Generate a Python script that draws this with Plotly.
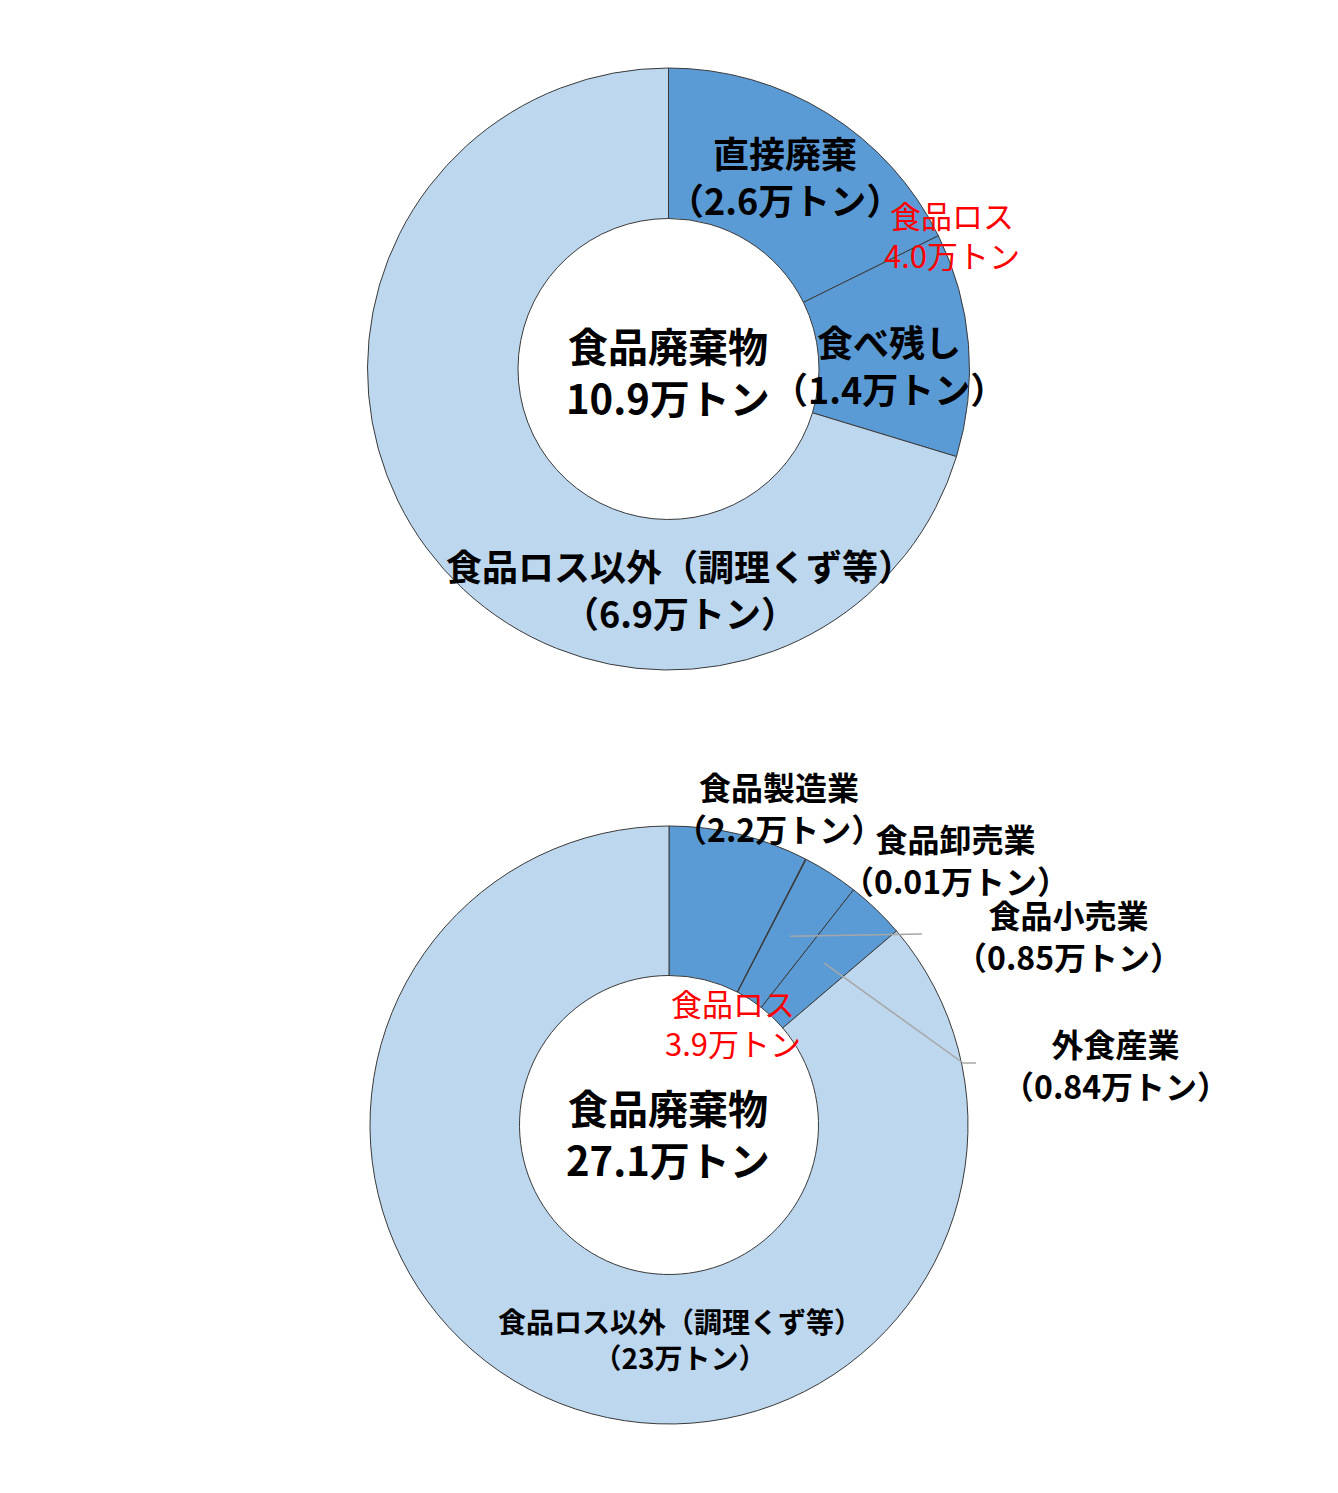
import math
import plotly.graph_objects as go

# page is 1338x1493; the browser body has an 8px margin
OFF = 8
W, H = 1338 - 2 * OFF, 1493 - 2 * OFF

# ---------------- data ----------------
top_names = ["直接廃棄", "食べ残し", "食品ロス以外（調理くず等）"]
top_amounts = ["2.6", "1.4", "6.9"]
top_shares = [17.7, 12.0, 70.3]          # slice sizes as drawn (%)
top_total = "10.9"
top_loss = "4.0"

bot_names = ["食品製造業", "食品卸売業", "食品小売業", "外食産業", "食品ロス以外（調理くず等）"]
bot_amounts = ["2.2", "0.01", "0.85", "0.84", "23"]
bot_shares = [7.55, 0.04, 3.0, 3.17, 86.24]  # slice sizes as drawn (%)
bot_total = "27.1"
bot_loss = "3.9"

DARK = "#5B9BD5"
LIGHT = "#BDD7EE"
FONT = "Noto Sans CJK JP"

# ---------------- layout geometry (page pixels) ----------------
TOP_C, TOP_R = (668.5, 369.0), 301.0
BOT_C, BOT_R = (669.0, 1125.0), 299.0


def px(x, y):
    return (x - OFF) / W, 1 - (y - OFF) / H


def domain(c, r):
    x0, y1 = px(c[0] - r, c[1] - r)
    x1, y0 = px(c[0] + r, c[1] + r)
    return dict(x=[x0, x1], y=[y0, y1])


fig = go.Figure()
for names, shares, c, r in [(top_names, top_shares, TOP_C, TOP_R),
                            (bot_names, bot_shares, BOT_C, BOT_R)]:
    colors = [DARK] * (len(names) - 1) + [LIGHT]
    fig.add_trace(go.Pie(
        labels=names, values=shares, sort=False, direction="clockwise",
        rotation=0, hole=0.5, textinfo="none", hoverinfo="label",
        marker=dict(colors=colors, line=dict(color="#3a3a3a", width=1)),
        domain=domain(c, r), showlegend=False,
    ))

annotations = []


def label(lines, x, y, size, color="black", bold=True):
    xx, yy = px(x, y)
    if bold:
        lines = [f"<b>{t}</b>" for t in lines]
    annotations.append(dict(text="<br>".join(lines), x=xx, y=yy,
                            xref="paper", yref="paper",
                            showarrow=False, xanchor="center", yanchor="middle",
                            align="center",
                            font=dict(family=FONT, size=size, color=color)))


def amt(a):
    return f"（{a}万トン）"


RED = "#FF0000"

# top donut
label([top_names[0], amt(top_amounts[0])], 785, 175, 36)
label([top_names[1], amt(top_amounts[1])], 889, 364, 36)
label([top_names[2], amt(top_amounts[2])], 680, 589, 36)
label(["食品ロス", f"{top_loss}万トン"], 952, 234, 31, RED, bold=False)
label(["食品廃棄物", f"{top_total}万トン"], 668, 371, 40)

# bottom donut
label([bot_names[0], amt(bot_amounts[0])], 779, 807, 32)
label([bot_names[1], amt(bot_amounts[1])], 955, 859, 32)
label([bot_names[2], amt(bot_amounts[2])], 1068, 935, 32)
label([bot_names[3], amt(bot_amounts[3])], 1115, 1064, 32)
label([bot_names[4], amt(bot_amounts[4])], 680, 1339, 28)
label(["食品ロス", f"{bot_loss}万トン"], 733, 1022, 31, RED, bold=False)
label(["食品廃棄物", f"{bot_total}万トン"], 668, 1133, 40)


# leader lines from slice mid-angles (bottom donut)
def slice_point(shares, idx, c, r, frac):
    tot = sum(shares)
    start = sum(shares[:idx]) / tot * 360
    mid = start + shares[idx] / tot * 360 / 2
    a = math.radians(mid)
    return c[0] + r * frac * math.sin(a), c[1] - r * frac * math.cos(a)


shapes = []


def seg(p, q):
    x0, y0 = px(*p)
    x1, y1 = px(*q)
    shapes.append(dict(type="line", xref="paper", yref="paper",
                       x0=x0, y0=y0, x1=x1, y1=y1,
                       line=dict(color="#A6A6A6", width=1.5)))


p = slice_point(bot_shares, 2, BOT_C, BOT_R, 0.75)
seg(p, (922, 934))
p = slice_point(bot_shares, 3, BOT_C, BOT_R, 0.75)
seg(p, (963, 1063))
seg((963, 1063), (976, 1063))

fig.update_layout(width=W, height=H, margin=dict(l=0, r=0, t=0, b=0),
                  paper_bgcolor="white", plot_bgcolor="white",
                  annotations=annotations, shapes=shapes)
fig.write_html("out.html")
